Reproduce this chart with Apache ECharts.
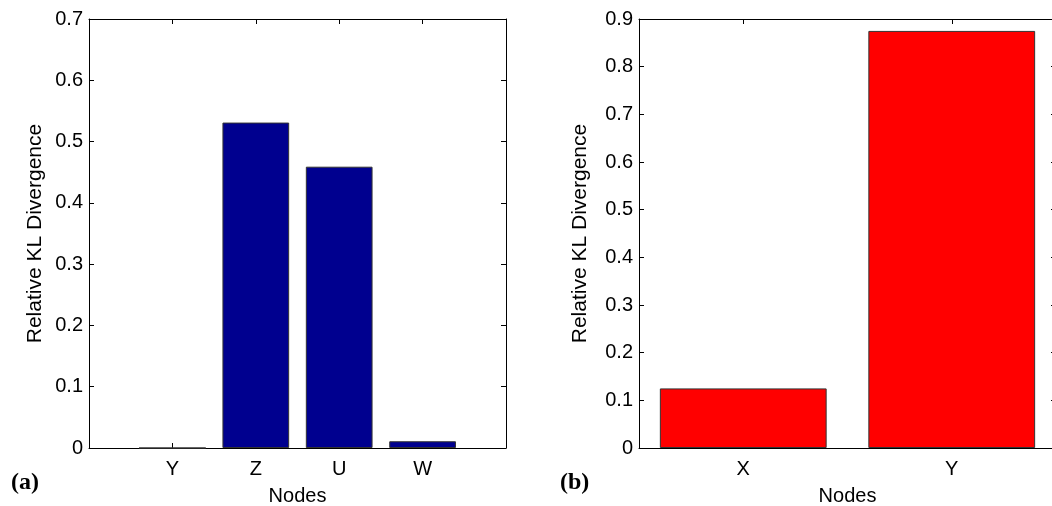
<!DOCTYPE html>
<html>
<head>
<meta charset="utf-8">
<script src="https://cdn.jsdelivr.net/npm/echarts@6/dist/echarts.min.js"></script>
<style>
  html, body { margin: 0; padding: 0; background: #fff; }
  #chart { width: 1052px; height: 506px; }
</style>
</head>
<body>
<div id="chart"></div>
<script>
// panel (a)
const nodesA = ['Y', 'Z', 'U', 'W'];
const klA = [0, 0.531, 0.459, 0.011];
// panel (b)
const nodesB = ['X', 'Y'];
const klB = [0.125, 0.875];

const font = "'Liberation Sans', Arial, sans-serif";
const serif = "'Liberation Serif', 'Times New Roman', serif";
const myChart = echarts.init(document.getElementById('chart'));

// matlab keeps xlim [0 5] for 4 bars, so pad both ends
const catsA = [''].concat(nodesA, ['']);
const dataA = [null].concat(klA, [null]);

const axisLine = { show: true, onZero: false, lineStyle: { color: '#000', width: 1 } };
const tick = { show: true, inside: true, length: 5, lineStyle: { color: '#000' } };

function yAxes(gridIndex, max, gap) {
  return [
    {
      type: 'value', gridIndex: gridIndex, position: 'left',
      min: 0, max: max, interval: 0.1,
      name: 'Relative KL Divergence', nameLocation: 'middle', nameGap: gap,
      nameTextStyle: { fontFamily: font, fontSize: 21, color: '#000' },
      axisLine: axisLine, axisTick: tick, splitLine: { show: false },
      axisLabel: { fontFamily: font, fontSize: 20, color: '#000', margin: 6,
        formatter: v => (Math.round(v * 10) / 10).toString() }
    },
    {
      type: 'value', gridIndex: gridIndex, position: 'right',
      min: 0, max: max, interval: 0.1,
      axisLine: axisLine, axisTick: tick, splitLine: { show: false },
      axisLabel: { show: false }
    }
  ];
}

function xAxes(gridIndex, cats, gap) {
  return [
    {
      type: 'category', gridIndex: gridIndex, position: 'bottom', data: cats,
      boundaryGap: gap,
      name: 'Nodes', nameLocation: 'middle', nameGap: 38,
      nameTextStyle: { fontFamily: font, fontSize: 20, color: '#000' },
      axisLine: axisLine, axisTick: Object.assign({ alignWithLabel: true, interval: 0 }, tick),
      axisLabel: { fontFamily: font, fontSize: 20, color: '#000', margin: 11, interval: 0 }
    },
    {
      type: 'category', gridIndex: gridIndex, position: 'top', data: cats,
      boundaryGap: gap,
      axisLine: axisLine, axisTick: Object.assign({ alignWithLabel: true, interval: 0 }, tick),
      axisLabel: { show: false }
    }
  ];
}

const option = {
  animation: false,
  backgroundColor: '#fff',
  title: [
    { text: '(a)', left: 6, top: 466,
      textStyle: { fontFamily: serif, fontSize: 24, fontWeight: 'bold', color: '#000' } },
    { text: '(b)', left: 555, top: 466,
      textStyle: { fontFamily: serif, fontSize: 24, fontWeight: 'bold', color: '#000' } }
  ],
  grid: [
    { left: 89, top: 19, width: 417, bottom: 58, outerBoundsMode: 'none' },
    { left: 639, top: 19, right: -4, bottom: 58, outerBoundsMode: 'none' }
  ],
  xAxis: xAxes(0, catsA, false).concat(xAxes(1, nodesB, true)),
  yAxis: yAxes(0, 0.7, 43).concat(yAxes(1, 0.9, 48)),
  series: [
    {
      type: 'bar', xAxisIndex: 0, yAxisIndex: 0, data: dataA,
      barWidth: '80%',
      itemStyle: { color: '#00008F', borderColor: '#333', borderWidth: 1 }
    },
    {
      type: 'bar', xAxisIndex: 2, yAxisIndex: 2, data: klB,
      barWidth: '80%',
      itemStyle: { color: '#FF0000', borderColor: '#333', borderWidth: 1 }
    }
  ]
};

myChart.setOption(option);
</script>
</body>
</html>
